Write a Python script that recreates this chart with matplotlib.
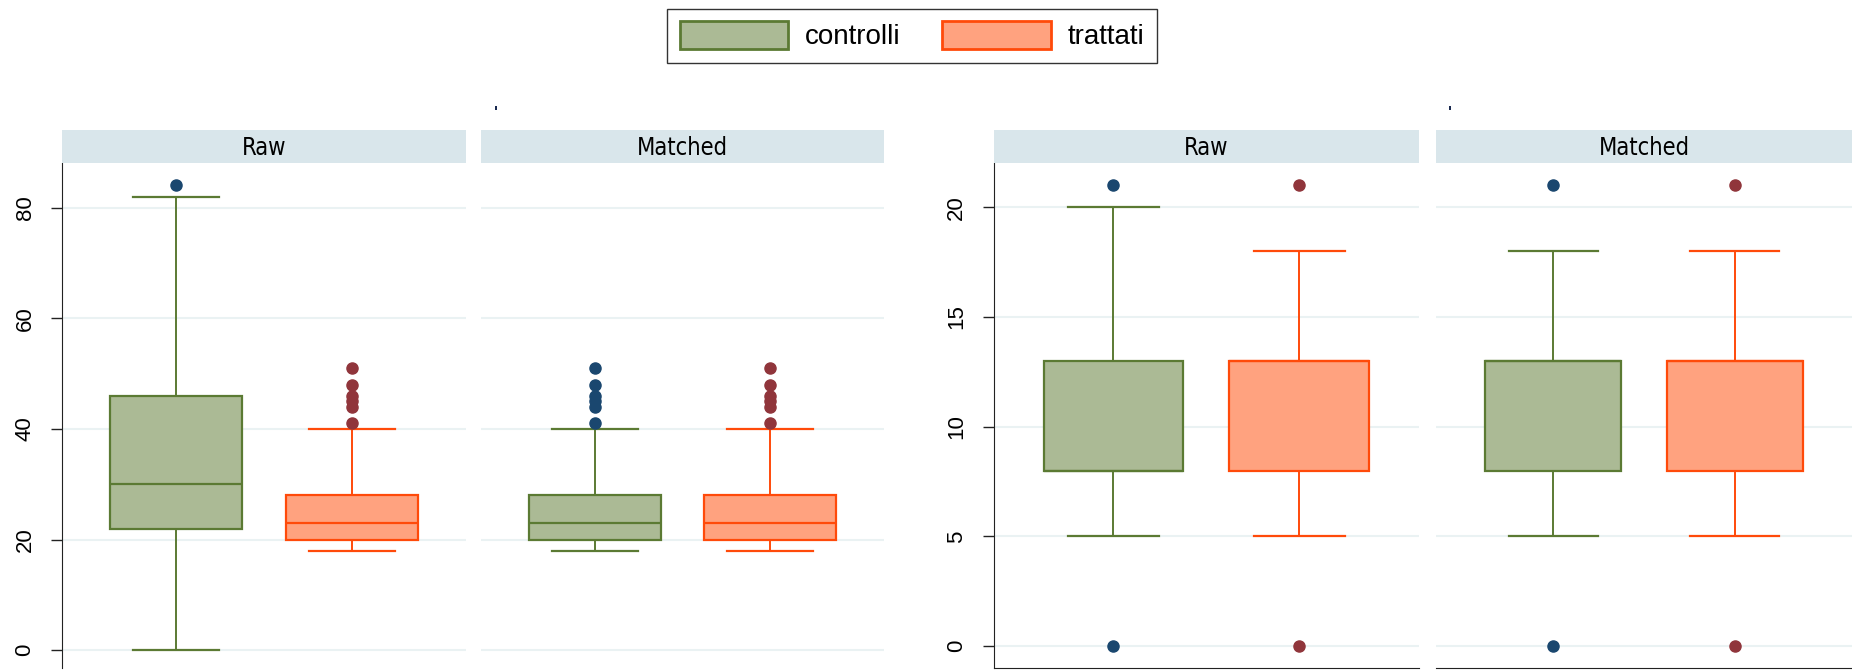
import matplotlib
matplotlib.use('Agg')
import matplotlib.pyplot as plt
from matplotlib.patches import Patch

plt.rcParams['font.family'] = ['Liberation Sans', 'DejaVu Sans']

groups = ['controlli', 'trattati']
panels = ['Raw', 'Matched']

# left graph: box stats per panel, per group (q1, median, q3, lower whisker, upper whisker)
left_q1 = [[22, 20], [20, 20]]
left_med = [[30, 23], [23, 23]]
left_q3 = [[46, 28], [28, 28]]
left_lo = [[0, 18], [18, 18]]
left_hi = [[82, 40], [40, 40]]
left_fliers = [[[84], [41, 44, 45, 46, 48, 51]],
               [[41, 44, 45, 46, 48, 51], [41, 44, 45, 46, 48, 51]]]
left_ticks = [0, 20, 40, 60, 80]

# right graph
right_q1 = [[8, 8], [8, 8]]
right_med = [[8, 13], [13, 13]]
right_q3 = [[13, 13], [13, 13]]
right_lo = [[5, 5], [5, 5]]
right_hi = [[20, 18], [18, 18]]
right_fliers = [[[0, 21], [0, 21]], [[0, 21], [0, 21]]]
right_ticks = [0, 5, 10, 15, 20]

fill = ['#abba95', '#ffa27f']
edge = ['#5b7a33', '#ff4a0a']
dots = ['#1a476f', '#90353b']
grid_col = '#eaf2f3'
strip_col = '#d9e6eb'
axis_col = '#222222'

W, H = 1852, 670
fig = plt.figure(figsize=(W / 100, H / 100), dpi=100)


def draw_panel(px0, px1, title, q1, med, q3, lo, hi, fl, ylim, ticks, first, bottom):
    top, bot = 163.3, 668
    ax = fig.add_axes([px0 / W, (H - bot) / H, (px1 - px0) / W, (bot - top) / H])
    stats = []
    for k in range(2):
        stats.append(dict(med=med[k], q1=q1[k], q3=q3[k], whislo=lo[k], whishi=hi[k],
                          fliers=fl[k], label=groups[k]))
    for k in range(2):
        ax.bxp([stats[k]], positions=[k + 1], widths=0.75, capwidths=0.49,
               patch_artist=True, manage_ticks=False,
               boxprops=dict(facecolor=fill[k], edgecolor=edge[k], linewidth=1.6),
               medianprops=dict(color=edge[k], linewidth=1.6),
               whiskerprops=dict(color=edge[k], linewidth=1.4),
               capprops=dict(color=edge[k], linewidth=1.6),
               flierprops=dict(marker='o', markerfacecolor=dots[k], markeredgecolor=dots[k],
                               markersize=8))
    ax.set_xlim(0.354, 2.646)
    ax.set_ylim(*ylim)
    ax.set_yticks(ticks)
    for t in ticks:
        ax.axhline(t, color=grid_col, linewidth=1.5, zorder=0)
    ax.set_xticks([])
    for s in ['top', 'right']:
        ax.spines[s].set_visible(False)
    ax.spines['bottom'].set_visible(bottom)
    ax.spines['left'].set_visible(first)
    ax.spines['left'].set_color(axis_col)
    ax.spines['bottom'].set_color(axis_col)
    if first:
        ax.tick_params(axis='y', length=8, width=1, pad=11, labelsize=16, color=axis_col)
        for lab in ax.get_yticklabels():
            lab.set_rotation(90)
            lab.set_va('center')
    else:
        ax.tick_params(axis='y', length=0, labelleft=False)

    sx = fig.add_axes([px0 / W, (H - top) / H, (px1 - px0) / W, 33 / H])
    sx.set_facecolor(strip_col)
    sx.set_xticks([])
    sx.set_yticks([])
    for s in sx.spines.values():
        s.set_visible(False)
    sx.text(0.5, 0.45, title, ha='center', va='center', fontsize=17,
            family='DejaVu Sans', stretch='condensed', transform=sx.transAxes)
    return ax


left_x = [(62, 466), (481, 884)]
right_x = [(993.5, 1419), (1436, 1852)]
for i in range(2):
    draw_panel(left_x[i][0], left_x[i][1], panels[i],
               left_q1[i], left_med[i], left_q3[i], left_lo[i], left_hi[i], left_fliers[i],
               (-3.2, 88), left_ticks, i == 0, False)
    draw_panel(right_x[i][0], right_x[i][1], panels[i],
               right_q1[i], right_med[i], right_q3[i], right_lo[i], right_hi[i], right_fliers[i],
               (-1, 22), right_ticks, i == 0, True)

# tiny graph titles
fig.text(496 / W, 1 - 113 / H, "'", fontsize=12, fontweight='bold', color='#1a2a50',
         ha='center', va='center')
fig.text(1450 / W, 1 - 113 / H, "'", fontsize=12, fontweight='bold', color='#1a2a50',
         ha='center', va='center')

handles = [Patch(facecolor=fill[k], edgecolor=edge[k], linewidth=2) for k in range(2)]
leg = fig.legend(handles, groups, loc='upper center', bbox_to_anchor=(912 / W, 1 - 8.8 / H),
                 ncol=2, fontsize=20, frameon=True, fancybox=False, handlelength=3.9,
                 handleheight=1.15, handletextpad=0.6, columnspacing=1.5,
                 borderpad=0.45, borderaxespad=0)
leg.get_frame().set_edgecolor('black')
leg.get_frame().set_linewidth(1)

fig.savefig('out.png', dpi=100)
